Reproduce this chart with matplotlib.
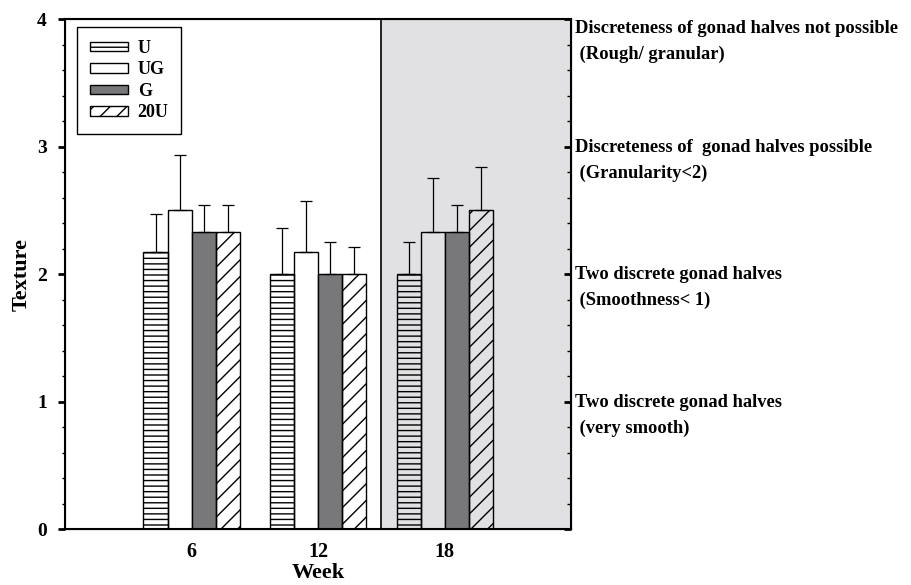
import matplotlib
matplotlib.use("Agg")
import matplotlib.pyplot as plt
import numpy as np
from matplotlib.ticker import AutoMinorLocator

plt.rcParams['font.family'] = ['Liberation Serif', 'DejaVu Serif']
plt.rcParams['font.weight'] = 'bold'
plt.rcParams['axes.labelweight'] = 'bold'
plt.rcParams['hatch.linewidth'] = 1.0

# data
weeks = ['6', '12', '18']
series = ['U', 'UG', 'G', '20U']
u_vals = [2.17, 2.0, 2.0]
u_err = [0.30, 0.36, 0.25]
ug_vals = [2.5, 2.17, 2.33]
ug_err = [0.43, 0.40, 0.42]
g_vals = [2.33, 2.0, 2.33]
g_err = [0.21, 0.25, 0.21]
u20_vals = [2.33, 2.0, 2.5]
u20_err = [0.21, 0.21, 0.34]

scale_levels = [4, 3, 2, 1]
scale_texts = [
    'Discreteness of gonad halves not possible\n (Rough/ granular)',
    'Discreteness of  gonad halves possible\n (Granularity<2)',
    'Two discrete gonad halves\n (Smoothness< 1)',
    'Two discrete gonad halves\n (very smooth)',
]

values = [u_vals, ug_vals, g_vals, u20_vals]
errors = [u_err, ug_err, g_err, u20_err]
faces = ['none', 'none', '#78787a', 'none']
hatches = ['---', None, None, '//']

fig = plt.figure(figsize=(9.12, 5.85), dpi=100)
ax = fig.add_axes([0.0713, 0.0957, 0.555, 0.8718])

x = np.arange(1, len(weeks) + 1)
w = 0.19

# shaded region for week 18
ax.axvspan(2.5, 4.0, facecolor='#e1e1e3', edgecolor='black', linewidth=1.2, zorder=0)

for i, name in enumerate(series):
    pos = x + (i - 1.5) * w
    ax.bar(pos, values[i], width=w, facecolor=faces[i], edgecolor='black',
           hatch=hatches[i], linewidth=1.0, label=name, zorder=2)
    ax.errorbar(pos, values[i], yerr=[[0] * len(weeks), errors[i]], fmt='none',
                ecolor='black', elinewidth=0.9, capsize=4, capthick=0.9, zorder=3)

ax.set_xlim(0, 4)
ax.set_ylim(0, 4)
ax.set_xticks(x)
ax.set_xticklabels(weeks, fontsize=14.5)
ax.tick_params(axis='x', length=0, pad=9)
ax.set_yticks([0, 1, 2, 3, 4])
ax.tick_params(axis='y', which='major', labelsize=14)
ax.yaxis.set_minor_locator(AutoMinorLocator(5))
ax.tick_params(axis='y', which='major', direction='out', length=5, width=2, pad=8)
ax.tick_params(axis='y', which='minor', direction='out', length=2.5, width=1)
for s in ax.spines.values():
    s.set_linewidth(1.5)

ax.set_xlabel('Week', fontsize=16, labelpad=1)
ax.set_ylabel('Texture', fontsize=16, labelpad=4)

# right side scale
ax2 = ax.twinx()
ax2.set_ylim(0, 4)
ax2.set_yticks([0, 1, 2, 3, 4])
ax2.yaxis.set_minor_locator(AutoMinorLocator(5))
ax2.tick_params(axis='y', which='major', direction='in', length=5, width=2, labelright=False)
ax2.tick_params(axis='y', which='minor', direction='in', length=3, width=1)
for lvl, txt in zip(scale_levels, scale_texts):
    dy = -1 if lvl == max(scale_levels) else 5.5
    ax2.annotate(txt, xy=(1.0, lvl), xycoords=('axes fraction', 'data'),
                 xytext=(3, dy), textcoords='offset points', ha='left', va='top',
                 fontsize=13.3, linespacing=1.65, annotation_clip=False)

leg = ax.legend(loc='upper left', bbox_to_anchor=(0.024, 0.984), borderaxespad=0,
                fancybox=False, edgecolor='black', framealpha=1, fontsize=13,
                handlelength=2.1, handleheight=0.45, labelspacing=0.25,
                handletextpad=0.55, borderpad=0.7)
leg.get_frame().set_linewidth(1.0)

fig.savefig('out.png', dpi=100)
